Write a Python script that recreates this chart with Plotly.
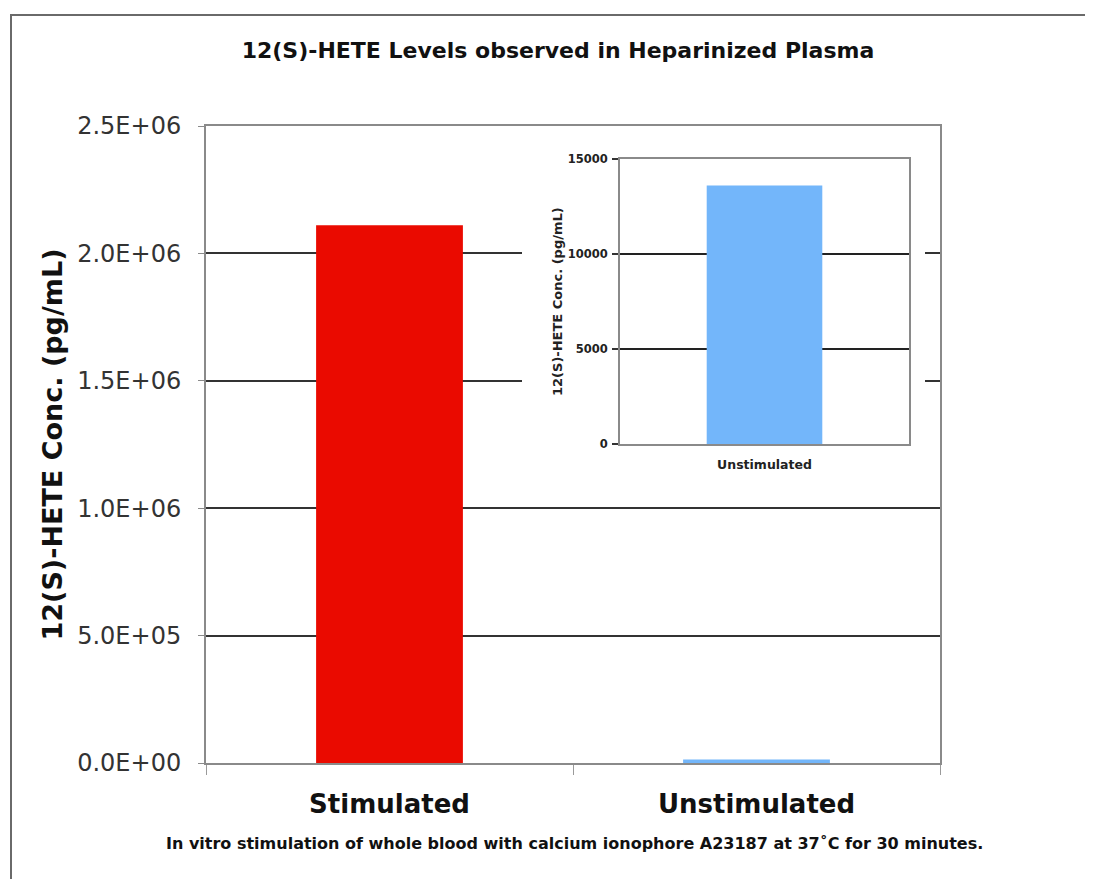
import plotly.graph_objects as go

# ---- data ----
categories = ["Stimulated", "Unstimulated"]
main_values = [2110000, 13600]
inset_categories = ["Unstimulated"]
inset_values = [13600]
main_ticks = [0, 500000, 1000000, 1500000, 2000000, 2500000]
main_ticklabels = ["0.0E+00", "5.0E+05", "1.0E+06", "1.5E+06", "2.0E+06", "2.5E+06"]
inset_ticks = [0, 5000, 10000, 15000]

title_text = "12(S)-HETE Levels observed in Heparinized Plasma"
ytitle_text = "12(S)-HETE Conc. (pg/mL)"
footnote_text = "In vitro stimulation of whole blood with calcium ionophore A23187 at 37˚C for 30 minutes."

RED = "#EA0A00"
BLUE = "#73B6FA"
FONT = "DejaVu Sans"

# page has an 8px body margin; work in reference-pixel coords and shift
OFF = 8
W, H = 1093 - OFF, 879 - OFF
PL, PR, PT, PB = 206, 940, 126, 763          # plot area in reference pixels
L, T = PL - OFF, PT - OFF
R, B = (1093 - PR), (879 - PB)
pw, ph = PR - PL, PB - PT

def px_x(x):
    return (x - PL) / pw

def px_y(y):
    return (PB - y) / ph

# inset plot area and its white backing panel, in reference pixels
ix0, ix1, iy0, iy1 = 620, 909, 159, 444
bx0, bx1, by0, by1 = 522, 925, 135, 478
inset_ymax = 15000

fig = go.Figure()
fig.add_trace(go.Bar(x=categories, y=main_values, marker=dict(color=[RED, BLUE], line=dict(width=0)),
                     xaxis="x", yaxis="y", showlegend=False, hoverinfo="x+y"))
# empty trace so the backing-panel subplot (x2/y2) exists between main and inset
fig.add_trace(go.Scatter(x=[], y=[], xaxis="x2", yaxis="y2", showlegend=False, hoverinfo="skip"))
fig.add_trace(go.Bar(x=inset_categories, y=inset_values, marker=dict(color=BLUE, line=dict(width=0)),
                     xaxis="x3", yaxis="y3", showlegend=False, hoverinfo="x+y"))

fig.update_layout(
    width=W, height=H,
    margin=dict(l=L, r=R, t=T, b=B, pad=0),
    paper_bgcolor="white", plot_bgcolor="white",
    bargap=0.6,
    font=dict(family=FONT, color="#222"),
    title=dict(text=title_text, x=(558 - OFF) / W, xanchor="center", xref="container",
               y=1 - (50 - OFF) / H, yanchor="middle", yref="container",
               font=dict(family=FONT, size=22, weight="bold", color="#111")),
    xaxis=dict(domain=[0, 1], showline=True, linecolor="#8a8a8a", linewidth=2, mirror=True,
               ticks="outside", tickson="boundaries", ticklen=10, tickcolor="#9a9a9a", tickwidth=1,
               tickfont=dict(family=FONT, size=26, weight="bold", color="#111"),
               ticklabelstandoff=17, showgrid=False, zeroline=False, fixedrange=True),
    yaxis=dict(domain=[0, 1], range=[0, 2500000], tickvals=main_ticks, ticktext=main_ticklabels,
               showline=True, linecolor="#8a8a8a", linewidth=2, mirror=True,
               ticks="outside", ticklen=6, tickcolor="#8a8a8a", tickwidth=1,
               tickfont=dict(family=FONT, size=24, color="#333"), ticklabelstandoff=12,
               showgrid=True, gridcolor="#333", gridwidth=1.5, zeroline=False, fixedrange=True),
    # backing panel axes (invisible)
    xaxis2=dict(domain=[px_x(bx0), px_x(bx1)], anchor="y2", range=[0, 1], visible=False, fixedrange=True),
    yaxis2=dict(domain=[px_y(by1), px_y(by0)], anchor="x2", range=[0, 1], visible=False, fixedrange=True),
    # inset axes
    xaxis3=dict(domain=[px_x(ix0), px_x(ix1)], anchor="y3", range=[-0.5, 0.5], showline=True,
                linecolor="#8a8a8a", linewidth=2, mirror=True, ticks="",
                tickfont=dict(family=FONT, size=12.5, weight="bold", color="#222"),
                ticklabelstandoff=8, showgrid=False, zeroline=False, fixedrange=True),
    yaxis3=dict(domain=[px_y(iy1), px_y(iy0)], anchor="x3", range=[0, inset_ymax], tickvals=inset_ticks,
                tickformat="d", showline=True, linecolor="#8a8a8a", linewidth=2, mirror=True,
                ticks="outside", ticklen=6, tickcolor="#333", tickwidth=1.5,
                tickfont=dict(family=FONT, size=11.5, weight="bold", color="#222"), ticklabelstandoff=2,
                showgrid=True, gridcolor="#222", gridwidth=1.5, zeroline=False, fixedrange=True),
    shapes=[
        # outer border
        dict(type="rect", xref="paper", yref="paper",
             x0=px_x(11), x1=px_x(1100), y0=px_y(890), y1=px_y(15),
             line=dict(color="#6a6a6a", width=2), fillcolor="rgba(0,0,0,0)", layer="below"),
        # white panel behind the inset, in the backing subplot's lower layer
        dict(type="rect", xref="x2", yref="y2", x0=0, x1=1, y0=0, y1=1,
             line=dict(width=0), fillcolor="white", layer="below"),
    ],
    annotations=[
        dict(text=ytitle_text, xref="paper", yref="paper", x=px_x(52), y=0.5, xanchor="center",
             yanchor="middle", textangle=-90, showarrow=False,
             font=dict(family=FONT, size=27, weight="bold", color="#111")),
        dict(text=ytitle_text, xref="paper", yref="paper", x=px_x(557), y=px_y(302), xanchor="center",
             yanchor="middle", textangle=-90, showarrow=False,
             font=dict(family=FONT, size=13, weight="bold", color="#222")),
        dict(text=footnote_text, xref="paper", yref="paper", x=px_x(574), y=px_y(843), xanchor="center",
             yanchor="middle", showarrow=False,
             font=dict(family=FONT, size=16, weight="bold", color="#111")),
    ],
)

fig.write_html("out.html")
